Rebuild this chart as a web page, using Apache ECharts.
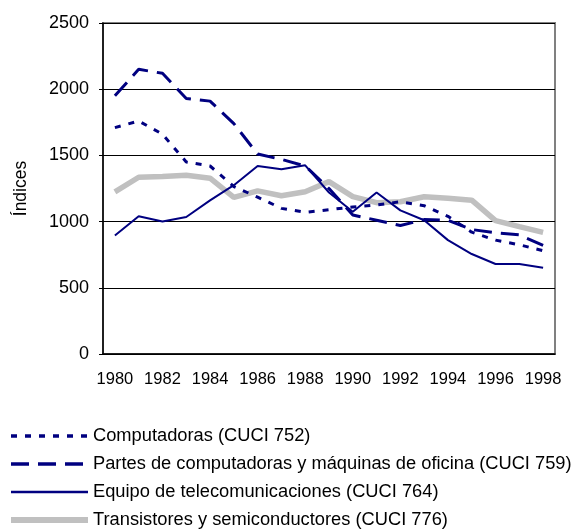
<!DOCTYPE html>
<html>
<head>
<meta charset="utf-8">
<script src="https://cdn.jsdelivr.net/npm/echarts@6/dist/echarts.min.js"></script>
<style>
html,body{margin:0;padding:0;background:#fff;}
#chart{width:575px;height:531px;}
</style>
</head>
<body>
<div id="chart"></div>
<script>
// años
var years = ['1980','1981','1982','1983','1984','1985','1986','1987','1988','1989',
  '1990','1991','1992','1993','1994','1995','1996','1997','1998'];
var seriesNames = [
  'Computadoras (CUCI 752)',
  'Partes de computadoras y máquinas de oficina (CUCI 759)',
  'Equipo de telecomunicaciones (CUCI 764)',
  'Transistores y semiconductores (CUCI 776)'
];
var computadoras = [1710,1760,1660,1450,1420,1265,1185,1100,1070,1090,1110,1125,1150,1120,1040,920,860,825,780];
var partes = [1950,2150,2120,1930,1910,1740,1510,1470,1420,1250,1050,1010,970,1015,1010,940,915,900,820];
var equipo = [895,1040,1000,1035,1160,1275,1420,1395,1425,1220,1075,1220,1085,1010,860,755,680,680,652];
var transistores = [1225,1335,1340,1350,1328,1183,1232,1195,1226,1302,1189,1143,1150,1188,1176,1162,1007,962,919];

var chart = echarts.init(document.getElementById('chart'));
var font = 'Liberation Sans, Arial, sans-serif';
var navy = '#000080';

var options = {
  animation: false,
  textStyle: {fontFamily: font},
  grid: {
    left: 103, right: 20, top: 23, bottom: 177,
    show: true, borderColor: '#808080', borderWidth: 2
  },
  legend: {
    orient: 'vertical',
    left: 8,
    top: 427,
    height: 104,
    padding: 0,
    itemWidth: 77,
    itemHeight: 14,
    itemGap: 10,
    itemStyle: {opacity: 0},
    textStyle: {fontFamily: font, fontSize: 18.3, lineHeight: 18, color: '#000'},
    data: [
      {name: seriesNames[0], lineStyle: {width: 3.5}},
      {name: seriesNames[1], lineStyle: {width: 3.5}},
      {name: seriesNames[2], lineStyle: {width: 2.5}},
      {name: seriesNames[3], lineStyle: {width: 6}}
    ]
  },
  xAxis: {
    type: 'category',
    data: years,
    boundaryGap: true,
    axisLine: {lineStyle: {color: '#000', width: 1.5}},
    axisTick: {inside: true, length: 5, lineStyle: {color: '#000'}},
    axisLabel: {interval: 1, fontSize: 16.5, color: '#000', margin: 17, fontFamily: font},
    splitLine: {show: false}
  },
  yAxis: {
    type: 'value',
    min: 0, max: 2500, interval: 500,
    name: 'Índices',
    nameLocation: 'middle',
    nameGap: 73,
    nameTextStyle: {fontSize: 17.5, color: '#000', fontFamily: font},
    axisLine: {show: true, lineStyle: {color: '#000', width: 1.5}},
    axisTick: {show: true, length: 4, lineStyle: {color: '#000'}},
    axisLabel: {
      fontSize: 18, color: '#000', margin: 14, fontFamily: font,
      formatter: function (v) { return String(v); }
    },
    splitLine: {lineStyle: {color: '#000', width: 1}}
  },
  series: [
    {
      name: seriesNames[0], type: 'line', data: computadoras,
      symbol: 'none', showSymbol: false,
      lineStyle: {color: navy, width: 3, type: [6, 8]},
      itemStyle: {color: navy}
    },
    {
      name: seriesNames[1], type: 'line', data: partes,
      symbol: 'none', showSymbol: false,
      lineStyle: {color: navy, width: 3, type: [18, 9]},
      itemStyle: {color: navy}
    },
    {
      name: seriesNames[2], type: 'line', data: equipo,
      symbol: 'none', showSymbol: false,
      lineStyle: {color: navy, width: 2},
      itemStyle: {color: navy}
    },
    {
      name: seriesNames[3], type: 'line', data: transistores,
      symbol: 'none', showSymbol: false, z: 1,
      lineStyle: {color: '#c0c0c0', width: 5.5},
      itemStyle: {color: '#c0c0c0'}
    }
  ]
};
chart.setOption(options, true);
</script>
</body>
</html>
